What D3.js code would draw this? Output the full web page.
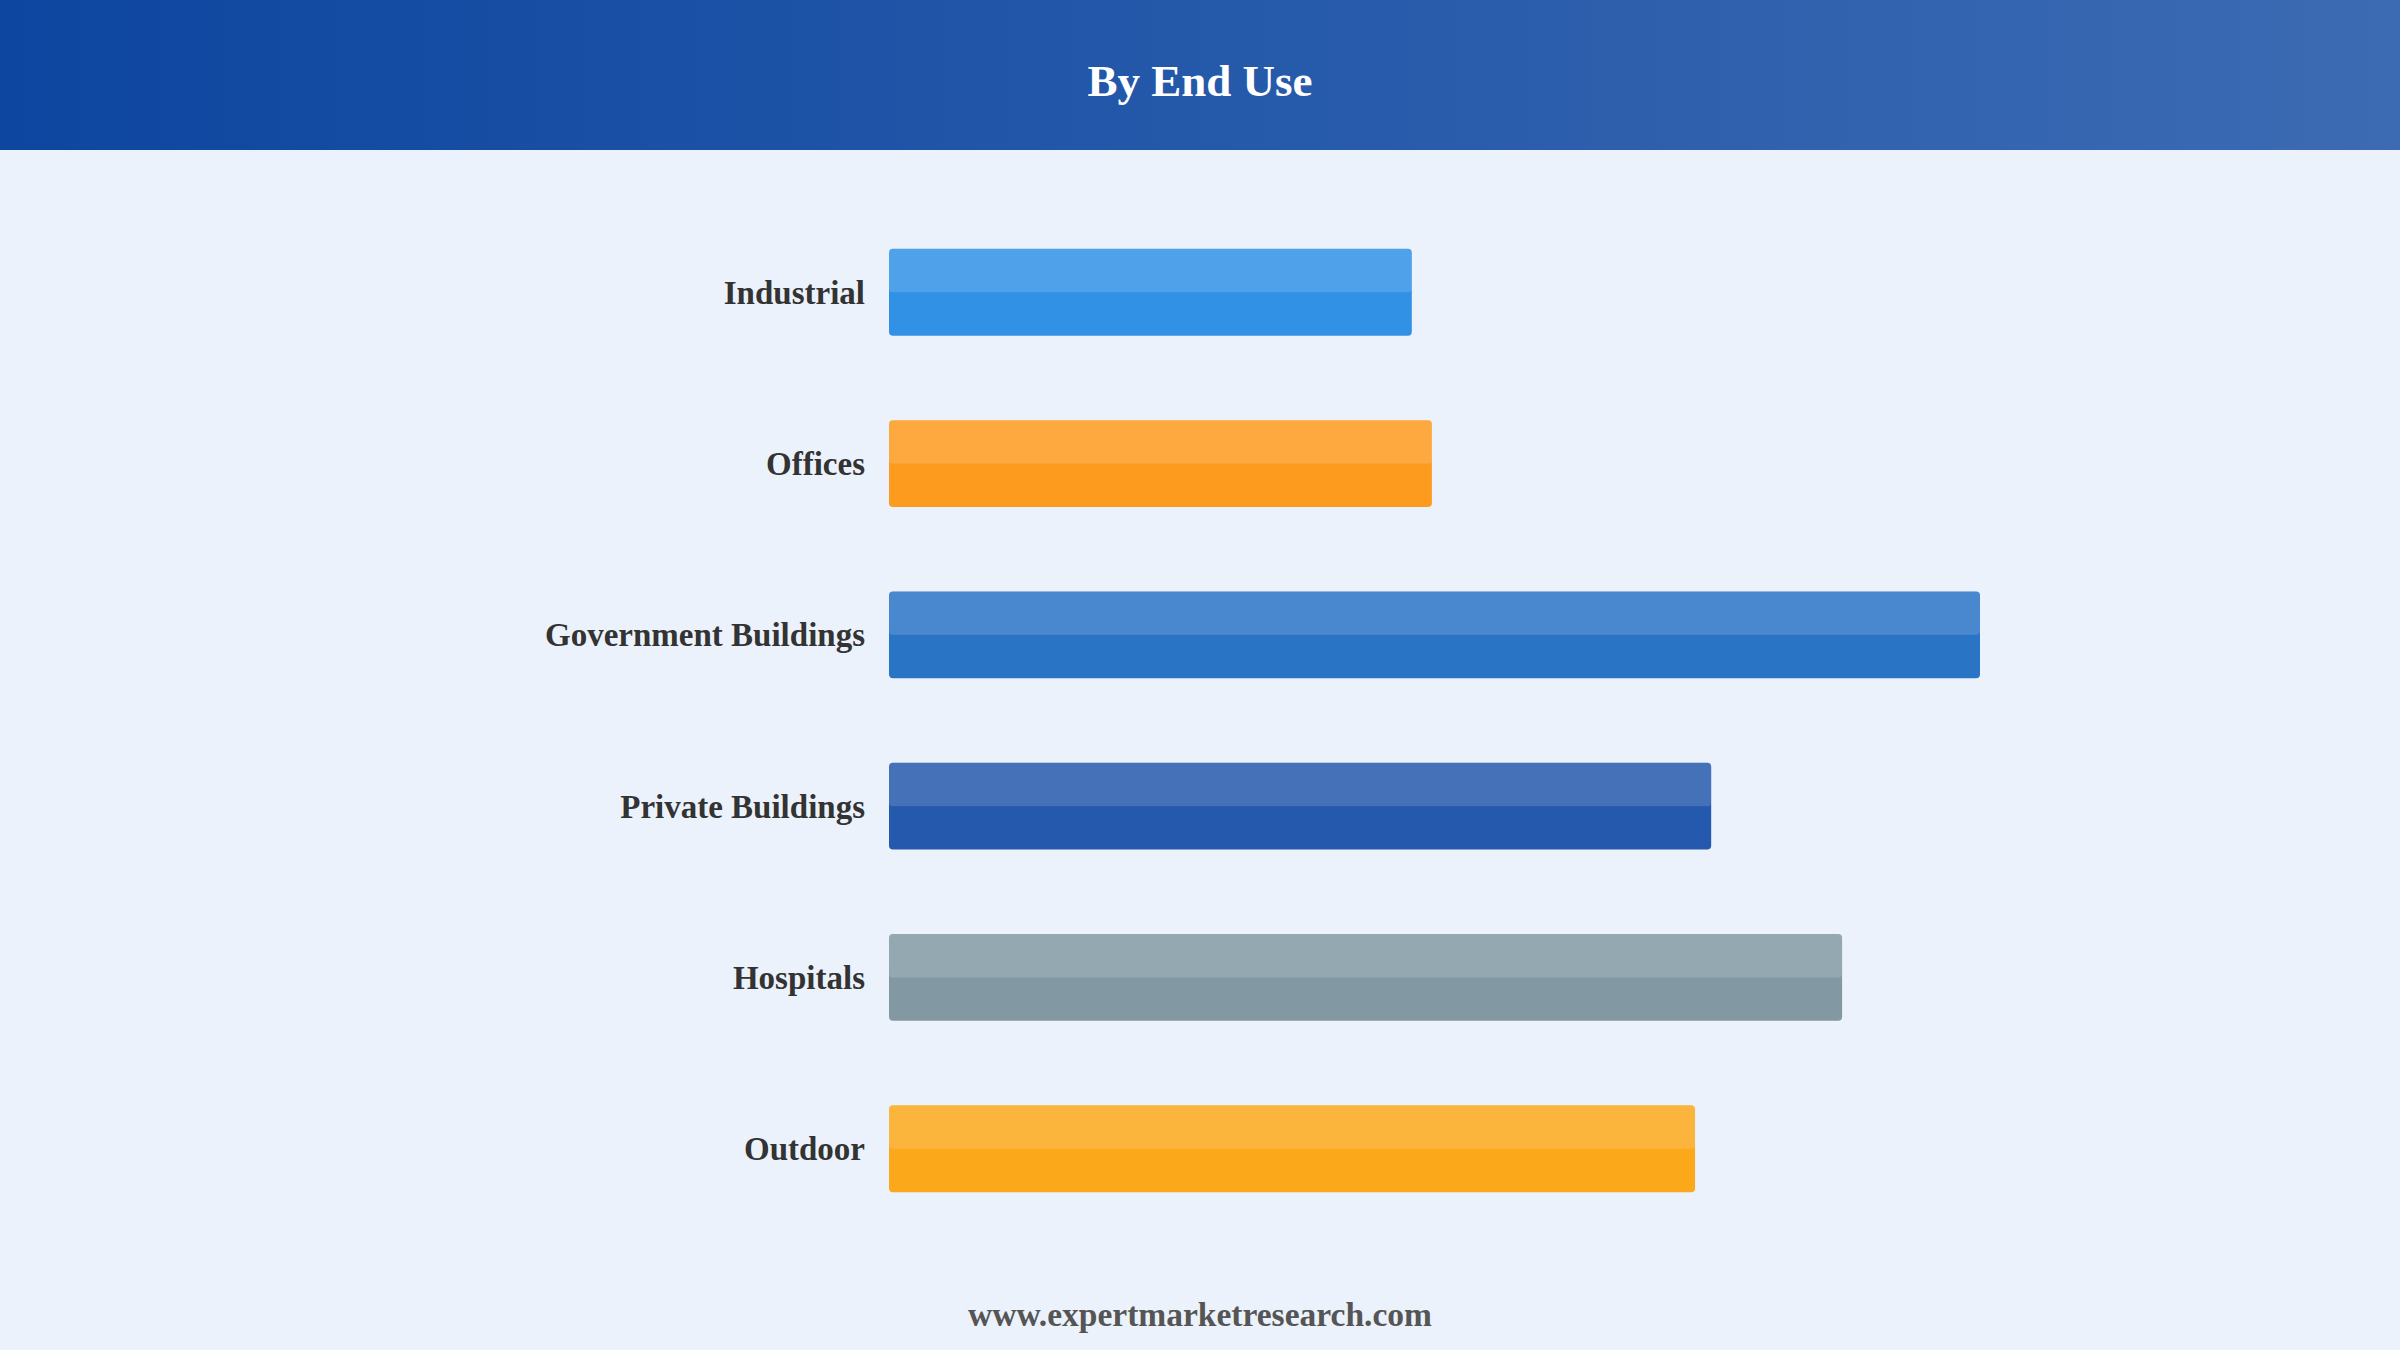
<!DOCTYPE html>
<html>
<head>
<meta charset="utf-8">
<script src="https://cdn.jsdelivr.net/npm/d3@7"></script>
<style>
  html, body { margin: 0; padding: 0; background: #EBF2FB; }
  svg { display: block; }
</style>
</head>
<body>
<svg id="chart" width="2400" height="1350"></svg>
<script>
const categories = ["Industrial", "Offices", "Government Buildings", "Private Buildings", "Hospitals", "Outdoor"];
const values = [11.98, 12.44, 25.0, 18.84, 21.84, 18.47];
const colors = ["#3192E5", "#FD9B1E", "#2A74C6", "#2559AD", "#8299A4", "#FBA91B"];
const title = "By End Use";
const footer = "www.expertmarketresearch.com";

const W = 2400, H = 1350;
const svg = d3.select("#chart");
const defs = svg.append("defs");
const grad = defs.append("linearGradient").attr("id", "hdr").attr("x1", "0%").attr("x2", "100%");
grad.append("stop").attr("offset", "0%").attr("stop-color", "#0D46A0");
grad.append("stop").attr("offset", "100%").attr("stop-color", "#3C6BB3");

svg.append("rect").attr("width", W).attr("height", H).attr("fill", "#EBF2FB");
svg.append("rect").attr("width", W).attr("height", 150).attr("fill", "url(#hdr)");
svg.append("text").attr("x", W / 2).attr("y", 80).attr("dy", "0.35em")
  .attr("text-anchor", "middle").attr("fill", "#ffffff")
  .attr("font-family", "'Liberation Serif', 'Times New Roman', serif")
  .attr("font-weight", "bold").attr("font-size", 45).text(title);

const x0 = 889;
const x = d3.scaleLinear().domain([0, 25]).range([x0, 1980]);
const y = d3.scaleBand().domain(categories).range([206, 1235]).paddingInner(0.493).paddingOuter(0.25);

const g = svg.append("g");
const rows = g.selectAll("g.row").data(categories).enter().append("g").attr("class", "row");

rows.append("rect")
  .attr("x", x(0))
  .attr("y", d => y(d))
  .attr("width", (d, i) => x(values[i]) - x(0))
  .attr("height", y.bandwidth())
  .attr("rx", 4).attr("ry", 4)
  .attr("fill", (d, i) => colors[i]);

rows.append("rect")
  .attr("x", x(0))
  .attr("y", d => y(d))
  .attr("width", (d, i) => x(values[i]) - x(0))
  .attr("height", y.bandwidth() / 2)
  .attr("rx", 4).attr("ry", 4)
  .attr("fill", "#ffffff").attr("fill-opacity", 0.15);

rows.append("text")
  .attr("x", x0 - 24)
  .attr("y", d => y(d) + y.bandwidth() / 2)
  .attr("dy", "0.35em")
  .attr("text-anchor", "end")
  .attr("fill", "#333333")
  .attr("font-family", "'Liberation Serif', 'Times New Roman', serif")
  .attr("font-weight", "bold").attr("font-size", 33)
  .text(d => d);

svg.append("text").attr("x", W / 2).attr("y", 1326)
  .attr("text-anchor", "middle").attr("fill", "#555555")
  .attr("font-family", "'Liberation Serif', 'Times New Roman', serif")
  .attr("font-weight", "bold").attr("font-size", 33.5).text(footer);
</script>
</body>
</html>
